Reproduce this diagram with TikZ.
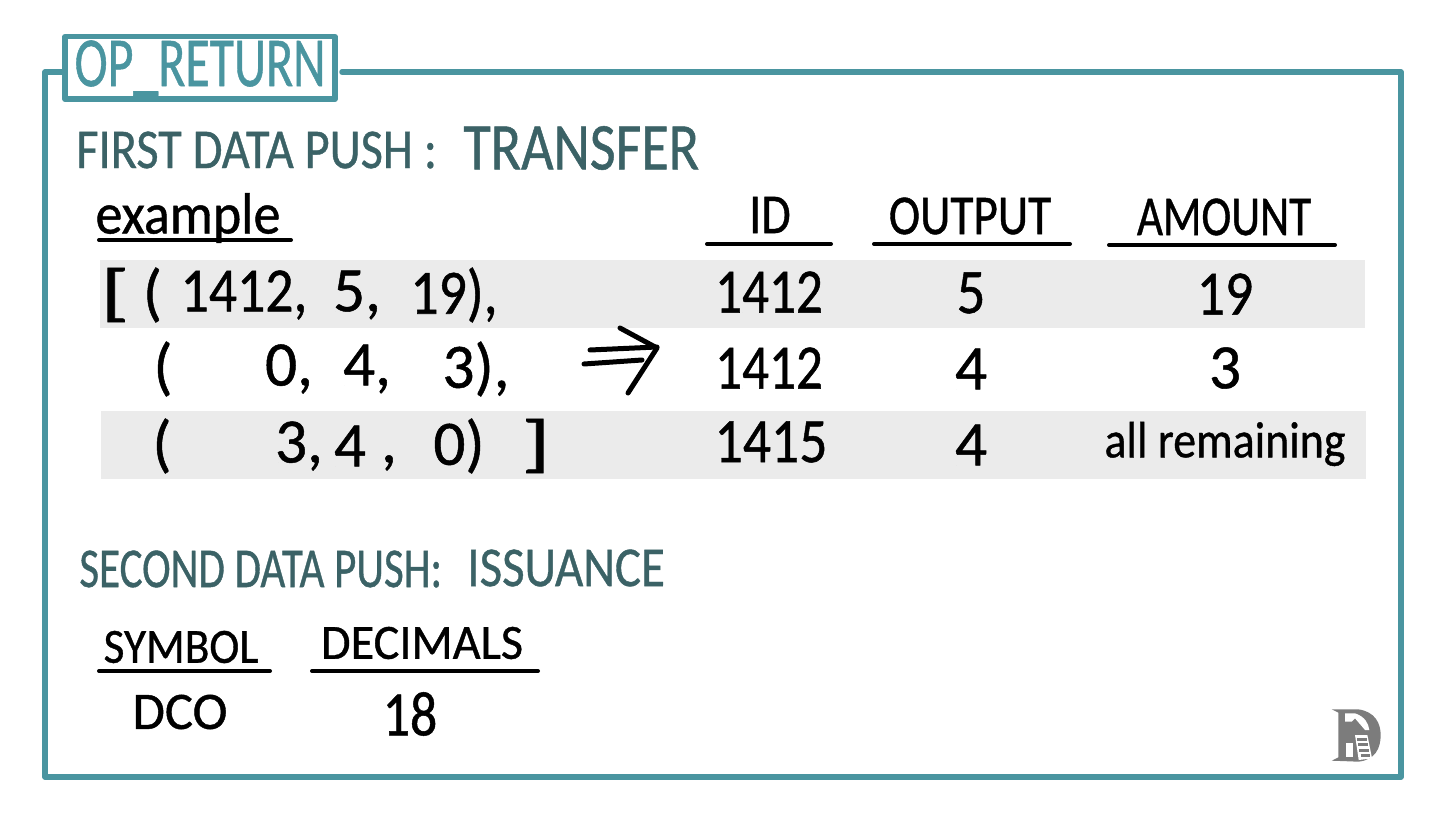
\documentclass[tikz,border=0pt]{standalone}
\usepackage{fontspec}
\setmainfont{Carlito}[FakeBold=0.8]
\usetikzlibrary{positioning}
\definecolor{frameteal}{HTML}{4A95A0}
\definecolor{headteal}{HTML}{3B6266}
\definecolor{bandgray}{HTML}{EBEBEB}
\definecolor{logogray}{HTML}{7C7C7C}
\newcommand{\nar}[2]{\scalebox{#1}[1]{#2}}

\begin{document}
\begin{tikzpicture}[
    titlebox/.style={draw=frameteal, line width=1.1mm, line join=round, minimum width=5.4cm, minimum height=1.25cm,
                     text=frameteal, font=\fontsize{40}{40}\selectfont, inner sep=0pt, fill=white},
    heada/.style={text=headteal, font=\fontsize{32}{32}\selectfont, anchor=west, inner sep=0pt},
    headb/.style={text=headteal, font=\fontsize{38}{38}\selectfont, anchor=west, inner sep=0pt},
    colhead/.style={font=\fontsize{32}{32}\selectfont, inner sep=0pt},
    sbhead/.style={font=\fontsize{28}{28}\selectfont, inner sep=0pt},
    cell/.style={font=\fontsize{36}{36}\selectfont, inner sep=0pt},
    band/.style={fill=bandgray, draw=none, minimum width=25.3cm, minimum height=1.36cm, inner sep=0pt},
    rule/.style={line width=0.8mm, line cap=round},
    frameline/.style={draw=frameteal, line width=1.1mm, line cap=round, line join=round},
]
\useasboundingbox (0,0) rectangle (29.1,-16.46);
% ===== frame =====
\coordinate (topleft)  at (0.9, -1.44);
\coordinate (topstub)  at (1.26, -1.44);
\coordinate (topstart) at (6.84, -1.44);
\coordinate (topright) at (28.02, -1.44);
\coordinate (botright) at (28.02, -15.54);
\coordinate (botleft)  at (0.9, -15.54);
\draw[frameline] (topstub) -- (topleft) -- (botleft) -- (botright) -- (topright) -- (topstart);
\node[titlebox] (title) at (4.0, -1.36) {\raisebox{-3pt}{\nar{0.71}{OP\_RETURN}}};

% ===== first push =====
\node[heada] (first) at (1.52, -3.0) {\nar{0.86}{FIRST DATA PUSH :}};
\node[headb] (transfer) at (9.26, -2.96) {\nar{0.84}{TRANSFER}};
\node[cell, font=\fontsize{33}{33}\selectfont] (example) at (3.76, -4.36) {\nar{0.93}{example}};
\draw[rule] (1.98, -4.8) -- (5.82, -4.8);

% ===== bands =====
\node[band] (bandone)   at (14.65, -5.88) {};
\node[band] (bandthree) at (14.66, -8.89) {};

% ===== table head =====
\node[colhead] (idh)  at (15.4, -4.3) {\nar{0.85}{ID}};
\node[colhead] (outh) at (19.4, -4.32) {\nar{0.84}{OUTPUT}};
\node[colhead] (amth) at (24.48, -4.34) {\nar{0.8}{AMOUNT}};
\draw[rule] (14.14, -4.88) -- (16.62, -4.88);
\draw[rule] (17.48, -4.88) -- (21.4, -4.88);
\draw[rule] (22.18, -4.9) -- (26.7, -4.9);

% ===== left list =====
\node[cell] (ba) at (2.3, -5.9) {\nar{1.5}{[}};
\node[cell] (pa) at (3.05, -5.9) {(};
\node[cell] (aa) at (4.88, -5.9) {\nar{0.88}{1412,}};
\node[cell] (ab) at (7.14, -5.9) {5,};
\node[cell] (ac) at (9.08, -5.9) {\nar{0.88}{19),}};
\node[cell] (pb) at (3.26, -7.38) {(};
\node[cell] (ba0) at (5.78, -7.38) {0,};
\node[cell] (bb) at (7.34, -7.38) {4,};
\node[cell] (bc) at (9.52, -7.38) {3),};
\node[cell] (pc) at (3.24, -8.92) {(};
\node[cell] (ca) at (5.98, -8.92) {3,};
\node[cell] (cb) at (7.0, -8.92) {4};
\node[cell] (cd) at (7.78, -9.26) {,};
\node[cell] (cc) at (9.18, -8.92) {0)};
\node[cell] (bc2) at (10.72, -8.92) {\nar{1.5}{]}};

% ===== arrow =====
\coordinate (arra) at (11.8, -7.0);
\coordinate (arrb) at (13.14, -6.94);
\coordinate (arrc) at (11.68, -7.28);
\coordinate (arrd) at (12.84, -7.2);
\coordinate (arre) at (12.4, -6.56);
\coordinate (arrf) at (13.14, -6.96);
\coordinate (arrg) at (12.56, -7.86);
\draw[rule, line width=1mm] (arra) -- (arrb);
\draw[rule, line width=1mm] (arrc) -- (arrd);
\draw[rule, line width=1mm, line join=round] (arre) -- (arrf) -- (arrg);

% ===== table body =====
\node[cell] (ida)  at (15.38, -5.84) {\nar{0.84}{1412}};
\node[cell] (outa) at (19.42, -5.86) {\nar{0.9}{5}};
\node[cell] (amta) at (24.5, -5.88) {\nar{0.88}{19}};
\node[cell] (idb)  at (15.38, -7.36) {\nar{0.84}{1412}};
\node[cell] (outb) at (19.42, -7.38) {4};
\node[cell] (amtb) at (24.5, -7.36) {3};
\node[cell] (idc)  at (15.42, -8.84) {\nar{0.88}{1415}};
\node[cell] (outc) at (19.42, -8.9) {4};
\node[cell, font=\fontsize{29}{29}\selectfont] (amtc) at (24.5, -8.88) {\nar{0.9}{all remaining}};

% ===== second push =====
\node[heada] (second) at (1.58, -11.38) {\nar{0.765}{SECOND DATA PUSH:}};
\node[heada] (issuance) at (9.34, -11.36) {\nar{0.87}{ISSUANCE}};
\node[sbhead] (symh) at (3.62, -12.94) {\nar{0.92}{SYMBOL}};
\node[sbhead] (dech) at (8.44, -12.86) {\nar{0.98}{DECIMALS}};
\draw[rule] (1.98, -13.42) -- (5.4, -13.42);
\draw[rule] (6.24, -13.42) -- (10.76, -13.42);
\node[cell, font=\fontsize{30}{30}\selectfont] (dco) at (3.6, -14.24) {DCO};
\node[cell] (dval) at (8.2, -14.28) {\nar{0.85}{18}};

% ===== logo =====
\begin{scope}[shift={(25.6,-13.6)}, x=0.00667cm, y=-0.00667cm]
\fill[logogray] (155,88) -- (235,88) .. controls (285,95) and (302,130) .. (302,165)
    .. controls (302,205) and (285,240) .. (235,245) -- (155,242) -- (175,232) -- (175,98) -- cycle;
\fill[white] (195,100) -- (225,100) .. controls (255,110) and (265,130) .. (268,150) -- (255,150)
    -- (225,115) -- (215,125) -- (195,125) -- cycle;
\fill[white] (197,190) -- (220,190) -- (220,230) -- (197,230) -- cycle;
\fill[white] (225,165) -- (262,165) -- (276,235) -- (236,240) -- cycle;
\draw[logogray, line width=0.6mm] (232,178) -- (262,178) (235,194) -- (265,194) (238,210) -- (268,210) (242,226) -- (270,226);
\end{scope}
\end{tikzpicture}
\end{document}
